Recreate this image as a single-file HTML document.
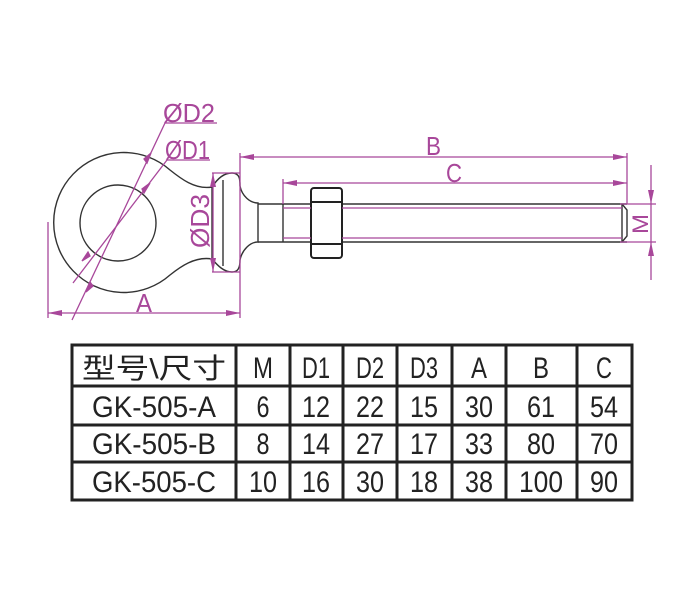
<!DOCTYPE html>
<html><head><meta charset="utf-8"><style>
html,body{margin:0;padding:0;background:#fff;}
svg{display:block;}
</style></head><body>
<svg width="700" height="600" viewBox="0 0 700 600" xmlns="http://www.w3.org/2000/svg">
<defs>
<marker id="ar2" viewBox="0 0 14 6" refX="14" refY="3" markerWidth="14" markerHeight="6" orient="auto-start-reverse" markerUnits="userSpaceOnUse"><path d="M0,0 L14,3 L0,6 z" fill="#a8479a"/></marker>
</defs>
<g fill="none" stroke="#333" stroke-width="1.4">
<path d="M212,187 C195,190 180,178 170,170 A70,70 0 1 0 170,275 C180,267 195,256 212,259"/>
<circle cx="118" cy="223" r="38"/>
<path d="M212,187 L212,259"/>
<path d="M212,187 C218,178 224,173 232,173 C240,173 240,180 240,186 C242,196 250,203 258,203 L258,242 C250,242 242,250 240,260 C240,268 238,272 232,272 C224,272 218,266 212,259"/>
<line x1="223" y1="180" x2="223" y2="266"/>
<line x1="258" y1="204" x2="627" y2="204"/>
<line x1="258" y1="242" x2="627" y2="242"/>
<line x1="283" y1="204" x2="283" y2="242"/>
<path d="M622,204 L627,210 L627,236 L622,242" />
<line x1="622" y1="204" x2="622" y2="242"/>
</g>
<rect x="311" y="188" width="31" height="70" rx="3" fill="#fff" stroke="#222" stroke-width="2"/>
<line x1="311" y1="202" x2="342" y2="202" stroke="#222" stroke-width="2"/>
<line x1="311" y1="244" x2="342" y2="244" stroke="#222" stroke-width="2"/>
<g stroke="#a8479a" stroke-width="1.3" fill="none">
<line x1="283" y1="208" x2="311" y2="208"/><line x1="342" y1="208" x2="622" y2="208"/>
<line x1="283" y1="238" x2="311" y2="238"/><line x1="342" y1="238" x2="622" y2="238"/>
<line x1="240" y1="153" x2="240" y2="318"/>
<line x1="283" y1="179" x2="283" y2="204"/>
<line x1="627" y1="153" x2="627" y2="204"/>
<line x1="240" y1="157" x2="627" y2="157" marker-start="url(#ar2)" marker-end="url(#ar2)"/>
<line x1="283" y1="183" x2="627" y2="183" marker-start="url(#ar2)" marker-end="url(#ar2)"/>
<line x1="620" y1="204" x2="656" y2="204"/>
<line x1="620" y1="242" x2="656" y2="242"/>
<line x1="651" y1="165" x2="651" y2="204" marker-end="url(#ar2)"/>
<line x1="651" y1="280" x2="651" y2="242" marker-end="url(#ar2)"/>
<line x1="651" y1="204" x2="651" y2="242"/>
<line x1="48" y1="222" x2="48" y2="318"/>
<line x1="48" y1="313" x2="240" y2="313" marker-start="url(#ar2)" marker-end="url(#ar2)"/>
<line x1="212" y1="173" x2="240" y2="173"/>
<line x1="212" y1="272" x2="240" y2="272"/>
<line x1="213" y1="173" x2="213" y2="272" marker-start="url(#ar2)" marker-end="url(#ar2)"/>
<line x1="165" y1="123" x2="72" y2="320"/>
<line x1="165" y1="123" x2="217" y2="123"/>
<line x1="167" y1="160" x2="73" y2="283"/>
<line x1="167" y1="160" x2="210" y2="160"/>
<path d="M151,153 l-4,10 l-3,-4z" fill="#a8479a"/>
<path d="M150,183 l-6,10 l-2,-4z" fill="#a8479a"/>
<path d="M86,292 l4,-10 l3,4z" fill="#a8479a"/>
<path d="M82,261 l6,-9 l2,4z" fill="#a8479a"/>
</g>
<g fill="#a8479a" font-family="Liberation Sans, sans-serif" font-size="26">
<text x="163" y="122" textLength="52" lengthAdjust="spacingAndGlyphs">ØD2</text>
<text x="165" y="159" textLength="45" lengthAdjust="spacingAndGlyphs">ØD1</text>
<text x="426" y="155" textLength="15" lengthAdjust="spacingAndGlyphs">B</text>
<text x="446" y="182" textLength="16" lengthAdjust="spacingAndGlyphs">C</text>
<text x="136" y="312" textLength="16" lengthAdjust="spacingAndGlyphs">A</text>
<text transform="translate(209,248) rotate(-90)" textLength="54" lengthAdjust="spacingAndGlyphs">ØD3</text>
<text transform="translate(648,234) rotate(-90)" font-size="22" textLength="20" lengthAdjust="spacingAndGlyphs">M</text>
</g>
<g stroke="#222" stroke-width="3" fill="none">
<rect x="72" y="345" width="560" height="155"/>
<line x1="72" y1="386" x2="632" y2="386"/>
<line x1="72" y1="425" x2="632" y2="425"/>
<line x1="72" y1="462" x2="632" y2="462"/>
<line x1="236" y1="345" x2="236" y2="500"/>
<line x1="290" y1="345" x2="290" y2="500"/>
<line x1="343" y1="345" x2="343" y2="500"/>
<line x1="397" y1="345" x2="397" y2="500"/>
<line x1="452" y1="345" x2="452" y2="500"/>
<line x1="506" y1="345" x2="506" y2="500"/>
<line x1="577" y1="345" x2="577" y2="500"/>
</g>
<g fill="#222" font-family="Liberation Sans, 'Noto Sans CJK SC', sans-serif" font-size="30" text-anchor="middle">
<text x="154" y="378" font-size="28" textLength="144" lengthAdjust="spacingAndGlyphs">型号\尺寸</text>
<text x="263" y="378" textLength="20" lengthAdjust="spacingAndGlyphs">M</text>
<text x="316" y="378" textLength="28" lengthAdjust="spacingAndGlyphs">D1</text>
<text x="370" y="378" textLength="28" lengthAdjust="spacingAndGlyphs">D2</text>
<text x="424" y="378" textLength="28" lengthAdjust="spacingAndGlyphs">D3</text>
<text x="479" y="378" textLength="16" lengthAdjust="spacingAndGlyphs">A</text>
<text x="541" y="378" textLength="16" lengthAdjust="spacingAndGlyphs">B</text>
<text x="604" y="378" textLength="16" lengthAdjust="spacingAndGlyphs">C</text>
<text x="154" y="417" textLength="124" lengthAdjust="spacingAndGlyphs">GK-505-A</text>
<text x="263" y="417" textLength="13" lengthAdjust="spacingAndGlyphs">6</text><text x="316" y="417" textLength="28" lengthAdjust="spacingAndGlyphs">12</text><text x="370" y="417" textLength="28" lengthAdjust="spacingAndGlyphs">22</text><text x="424" y="417" textLength="28" lengthAdjust="spacingAndGlyphs">15</text><text x="479" y="417" textLength="28" lengthAdjust="spacingAndGlyphs">30</text><text x="541" y="417" textLength="28" lengthAdjust="spacingAndGlyphs">61</text><text x="604" y="417" textLength="28" lengthAdjust="spacingAndGlyphs">54</text>
<text x="154" y="454" textLength="124" lengthAdjust="spacingAndGlyphs">GK-505-B</text>
<text x="263" y="454" textLength="13" lengthAdjust="spacingAndGlyphs">8</text><text x="316" y="454" textLength="28" lengthAdjust="spacingAndGlyphs">14</text><text x="370" y="454" textLength="28" lengthAdjust="spacingAndGlyphs">27</text><text x="424" y="454" textLength="28" lengthAdjust="spacingAndGlyphs">17</text><text x="479" y="454" textLength="28" lengthAdjust="spacingAndGlyphs">33</text><text x="541" y="454" textLength="28" lengthAdjust="spacingAndGlyphs">80</text><text x="604" y="454" textLength="28" lengthAdjust="spacingAndGlyphs">70</text>
<text x="154" y="492" textLength="124" lengthAdjust="spacingAndGlyphs">GK-505-C</text>
<text x="263" y="492" textLength="28" lengthAdjust="spacingAndGlyphs">10</text><text x="316" y="492" textLength="28" lengthAdjust="spacingAndGlyphs">16</text><text x="370" y="492" textLength="28" lengthAdjust="spacingAndGlyphs">30</text><text x="424" y="492" textLength="28" lengthAdjust="spacingAndGlyphs">18</text><text x="479" y="492" textLength="28" lengthAdjust="spacingAndGlyphs">38</text><text x="541" y="492" textLength="44" lengthAdjust="spacingAndGlyphs">100</text><text x="604" y="492" textLength="28" lengthAdjust="spacingAndGlyphs">90</text>
</g>
</svg>
</body></html>
